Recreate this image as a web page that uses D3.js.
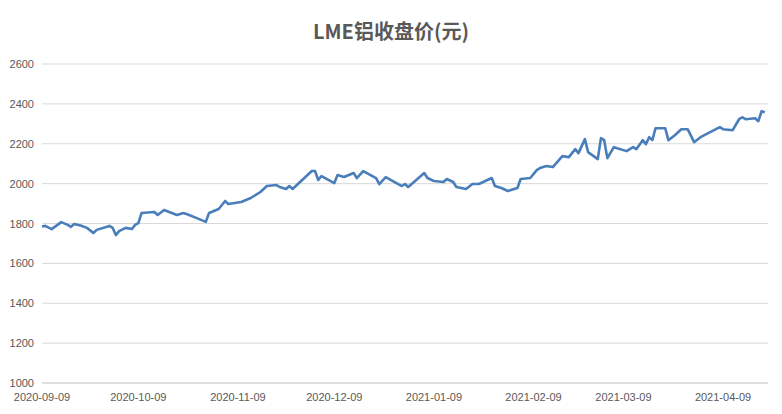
<!DOCTYPE html>
<html><head><meta charset="utf-8">
<script src="https://cdn.jsdelivr.net/npm/d3@7"></script>
<style>body{margin:0;background:#fff}</style></head>
<body><svg id="c" width="782" height="414"></svg>
<script>
const title = "LME铝收盘价(元)";
const dates = ["2020-09-09","2020-09-10","2020-09-12","2020-09-15","2020-09-17","2020-09-18","2020-09-19","2020-09-21","2020-09-23","2020-09-25","2020-09-26","2020-09-30","2020-10-01","2020-10-02","2020-10-03","2020-10-05","2020-10-07","2020-10-08","2020-10-09","2020-10-10","2020-10-14","2020-10-15","2020-10-17","2020-10-21","2020-10-23","2020-10-24","2020-10-27","2020-10-30","2020-10-31","2020-11-03","2020-11-05","2020-11-06","2020-11-10","2020-11-13","2020-11-16","2020-11-18","2020-11-21","2020-11-22","2020-11-24","2020-11-25","2020-11-26","2020-11-28","2020-11-30","2020-12-02","2020-12-03","2020-12-04","2020-12-05","2020-12-09","2020-12-10","2020-12-12","2020-12-15","2020-12-16","2020-12-18","2020-12-22","2020-12-23","2020-12-25","2020-12-30","2020-12-31","2021-01-01","2021-01-06","2021-01-07","2021-01-09","2021-01-12","2021-01-13","2021-01-15","2021-01-16","2021-01-19","2021-01-21","2021-01-23","2021-01-27","2021-01-28","2021-01-30","2021-02-01","2021-02-04","2021-02-05","2021-02-08","2021-02-10","2021-02-11","2021-02-13","2021-02-15","2021-02-18","2021-02-20","2021-02-22","2021-02-23","2021-02-25","2021-02-26","2021-03-01","2021-03-02","2021-03-03","2021-03-04","2021-03-06","2021-03-10","2021-03-12","2021-03-13","2021-03-15","2021-03-16","2021-03-17","2021-03-18","2021-03-19","2021-03-22","2021-03-23","2021-03-25","2021-03-27","2021-03-29","2021-03-31","2021-04-02","2021-04-05","2021-04-08","2021-04-09","2021-04-12","2021-04-14","2021-04-15","2021-04-16","2021-04-19","2021-04-20","2021-04-21","2021-04-22"];
const prices = [1785,1788,1772,1807,1793,1783,1797,1790,1778,1752,1768,1788,1778,1742,1762,1778,1772,1793,1802,1853,1858,1843,1868,1843,1853,1848,1828,1808,1853,1873,1913,1898,1908,1928,1958,1988,1993,1983,1973,1988,1973,2003,2033,2063,2063,2018,2038,2003,2043,2033,2053,2028,2063,2028,1998,2033,1988,1998,1983,2053,2028,2013,2008,2023,2008,1983,1973,1998,1998,2028,1988,1978,1963,1978,2023,2028,2068,2078,2088,2083,2138,2133,2173,2153,2223,2158,2123,2228,2218,2128,2183,2163,2183,2173,2218,2198,2233,2218,2278,2278,2218,2243,2273,2273,2208,2233,2258,2283,2273,2268,2323,2333,2323,2328,2313,2363,2358];
const xTicks = ["2020-09-09","2020-10-09","2020-11-09","2020-12-09","2021-01-09","2021-02-09","2021-03-09","2021-04-09"];
const yTicks = [1000,1200,1400,1600,1800,2000,2200,2400,2600];
const xDomain = ["2020-09-09","2021-04-23"];

const P = d3.timeParse("%Y-%m-%d");
const svg = d3.select("#c");
const L=42,R=768,T=64,B=383;
const x = d3.scaleTime().domain(xDomain.map(P)).range([L,R]);
const y = d3.scaleLinear().domain([1000,2600]).range([B,T]);
svg.append("text").attr("x",391).attr("y",39).attr("text-anchor","middle")
  .attr("font-family","Noto Sans CJK SC, sans-serif").attr("font-weight","bold")
  .attr("font-size",20).attr("fill","#595959").text(title);
svg.append("g").selectAll("line").data(yTicks.slice(1)).join("line")
  .attr("x1",L).attr("x2",R).attr("y1",d=>y(d)).attr("y2",d=>y(d)).attr("stroke","#d9d9d9");
svg.append("line").attr("x1",L).attr("x2",R).attr("y1",B).attr("y2",B).attr("stroke","#bfbfbf");
svg.append("g").selectAll("text").data(yTicks).join("text")
  .attr("x",34).attr("y",d=>y(d)+4).attr("text-anchor","end")
  .attr("font-family","Liberation Sans, Arial, sans-serif").attr("font-size",11).attr("fill","#595959").text(d=>d);
svg.append("g").selectAll("text").data(xTicks).join("text")
  .attr("x",d=>x(P(d))).attr("y",401).attr("text-anchor","middle")
  .attr("font-family","Liberation Sans, Arial, sans-serif").attr("font-size",11).attr("fill","#595959").text(d=>d);
svg.append("path").datum(dates.map((d,i)=>[P(d),prices[i]]))
  .attr("fill","none").attr("stroke","#4a7ebb").attr("stroke-width",2.6).attr("stroke-linejoin","round")
  .attr("d",d3.line().x(d=>x(d[0])).y(d=>y(d[1])));
</script></body></html>
